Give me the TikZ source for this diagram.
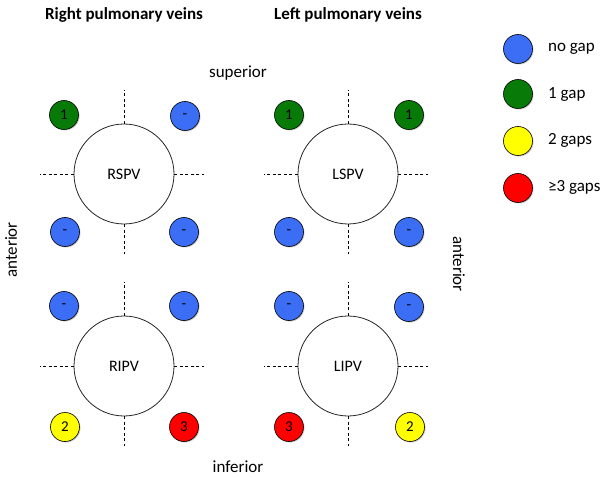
\documentclass[tikz,border=0pt]{standalone}
\usepackage{fontspec}
\setmainfont{Carlito}
\usetikzlibrary{shadows}
\definecolor{gblue}{RGB}{59,110,245}
\definecolor{ggreen}{RGB}{8,122,8}
\definecolor{gyellow}{RGB}{255,255,0}
\definecolor{gred}{RGB}{255,0,0}
\tikzset{
  vein/.style={circle, draw=black!85, line width=0.8pt, fill=white, minimum size=100pt, inner sep=0pt, font=\fontsize{16}{18}\selectfont},
  gapdot/.style={circle, draw=black, line width=0.6pt, minimum size=29pt, inner sep=0pt, font=\fontsize{15}{16}\selectfont,
    drop shadow={shadow xshift=1pt, shadow yshift=-1pt, opacity=0.35, fill=black!60}},
  dashln/.style={draw=black, dashed, dash pattern=on 3pt off 2.5pt, line width=0.6pt},
  lbl/.style={font=\fontsize{17}{20}\selectfont, inner sep=0pt},
  ttl/.style={font=\fontsize{17}{20}\selectfont\bfseries, inner sep=0pt},
}
\begin{document}
\begin{tikzpicture}[x=1pt,y=-1pt]
\useasboundingbox (0,0) rectangle (602,478);
% titles
\node[ttl] (t1) at (124,15) {Right pulmonary veins};
\node[ttl] (t2) at (348,15) {Left pulmonary veins};
\node[lbl] (sup) at (238,73) {superior};
\node[lbl] (inf) at (238,467) {inferior};
\node[lbl, rotate=90] (antL) at (11,250) {anterior};
\node[lbl, rotate=-90] (antR) at (459,264) {anterior};

% veins
\foreach \n/\t/\x/\y in {rs/RSPV/124/174, ls/LSPV/348/174, ri/RIPV/124/366, li/LIPV/348/366}{
  \node[vein] (\n) at (\x,\y) {\t};
  \coordinate (\n-nt) at (\x,\y-84);
  \coordinate (\n-st) at (\x,\y+80);
  \coordinate (\n-wt) at (\x-84,\y);
  \coordinate (\n-et) at (\x+80,\y);
  \draw[dashln] (\n.north) -- (\n-nt);
  \draw[dashln] (\n.south) -- (\n-st);
  \draw[dashln] (\n.west) -- (\n-wt);
  \draw[dashln] (\n.east) -- (\n-et);
}

% gap dots
\node[gapdot, fill=ggreen] (rs1) at (64,115) {1};
\node[gapdot, fill=gblue] (rs2) at (185,116) {-};
\node[gapdot, fill=gblue] (rs3) at (65,232) {-};
\node[gapdot, fill=gblue] (rs4) at (184,232) {-};

\node[gapdot, fill=ggreen] (ls1) at (289,115) {1};
\node[gapdot, fill=ggreen] (ls2) at (409,115) {1};
\node[gapdot, fill=gblue] (ls3) at (289,232) {-};
\node[gapdot, fill=gblue] (ls4) at (409,232) {-};

\node[gapdot, fill=gblue] (ri1) at (64,306) {-};
\node[gapdot, fill=gblue] (ri2) at (184,306) {-};
\node[gapdot, fill=gyellow] (ri3) at (65,427) {2};
\node[gapdot, fill=gred] (ri4) at (184,427) {3};

\node[gapdot, fill=gblue] (li1) at (289,306) {-};
\node[gapdot, fill=gblue] (li2) at (409,307) {-};
\node[gapdot, fill=gred] (li3) at (289,427) {3};
\node[gapdot, fill=gyellow] (li4) at (410,427) {2};

% legend
\node[gapdot, fill=gblue] (k1) at (518,49) {};
\node[gapdot, fill=ggreen] (k2) at (518,94) {};
\node[gapdot, fill=gyellow] (k3) at (518,141) {};
\node[gapdot, fill=gred] (k4) at (518,188) {};
\node[lbl, anchor=west] (k1t) at (548,49) {no gap};
\node[lbl, anchor=west] (k2t) at (548,94) {1 gap};
\node[lbl, anchor=west] (k3t) at (548,140) {2 gaps};
\node[lbl, anchor=west] (k4t) at (548,187) {≥3 gaps};
\end{tikzpicture}
\end{document}
